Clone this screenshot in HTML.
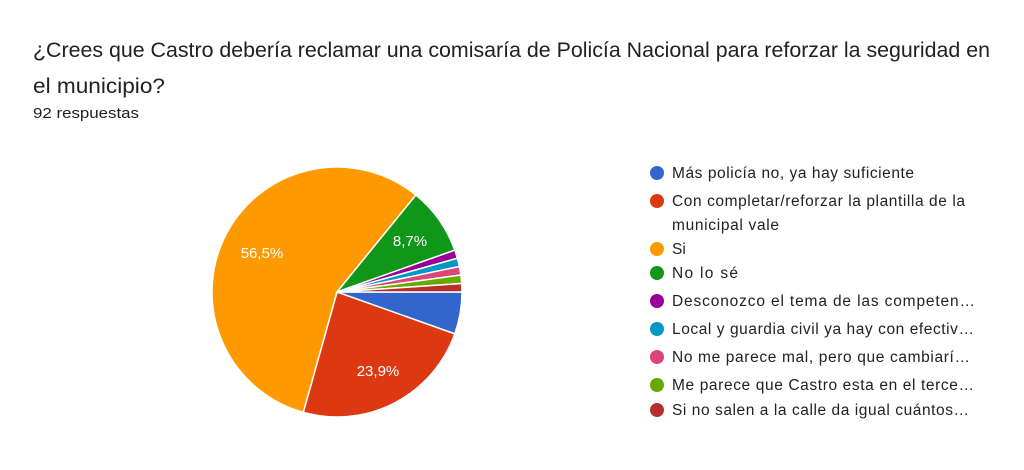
<!DOCTYPE html><html><head><meta charset="utf-8"><style>
body{margin:0;background:#fff;width:1024px;height:465px;overflow:hidden;font-family:"Liberation Sans",Arial,sans-serif}
</style></head><body>
<svg id="s" width="1024" height="465" xmlns="http://www.w3.org/2000/svg" font-family="Liberation Sans, Arial, sans-serif">
<text x="33" y="57" font-size="21" fill="#202124" textLength="957" lengthAdjust="spacingAndGlyphs">¿Crees que Castro debería reclamar una comisaría de Policía Nacional para reforzar la seguridad en</text>
<text x="33" y="93" font-size="21" fill="#202124" textLength="132" lengthAdjust="spacingAndGlyphs">el municipio?</text>
<text x="33" y="118" font-size="15" fill="#202124" textLength="106" lengthAdjust="spacingAndGlyphs">92 respuestas</text>
<g id="pie"></g>
<text x="262" y="258" font-size="15" fill="#fff" text-anchor="middle">56,5%</text>
<text x="378" y="376" font-size="15" fill="#fff" text-anchor="middle">23,9%</text>
<text x="410" y="246" font-size="15" fill="#fff" text-anchor="middle">8,7%</text>
<g font-size="15.5" fill="#222" lengthAdjust="spacingAndGlyphs">
<circle cx="657" cy="173" r="7" fill="#3366cc"/><text x="672" y="178" textLength="242">Más policía no, ya hay suficiente</text>
<circle cx="657" cy="201" r="7" fill="#dc3912"/><text x="672" y="206" textLength="293">Con completar/reforzar la plantilla de la</text><text x="672" y="230" textLength="107">municipal vale</text>
<circle cx="657" cy="249" r="7" fill="#ff9900"/><text x="672" y="254">Si</text>
<circle cx="657" cy="273" r="7" fill="#109618"/><text x="672" y="278" textLength="66">No lo sé</text>
<circle cx="657" cy="301" r="7" fill="#990099"/><text x="672" y="306" textLength="303">Desconozco el tema de las competen…</text>
<circle cx="657" cy="329" r="7" fill="#0099c6"/><text x="672" y="334" textLength="302">Local y guardia civil ya hay con efectiv…</text>
<circle cx="657" cy="357" r="7" fill="#dd4477"/><text x="672" y="362" textLength="298">No me parece mal, pero que cambiarí…</text>
<circle cx="657" cy="385" r="7" fill="#66aa00"/><text x="672" y="390" textLength="302">Me parece que Castro esta en el terce…</text>
<circle cx="657" cy="410" r="7" fill="#b82e2e"/><text x="672" y="415" textLength="297">Si no salen a la calle da igual cuántos…</text>
</g>
</svg>
<script>
var d=[5,22,52,8,1,1,1,1,1],c=["#3366cc","#dc3912","#ff9900","#109618","#990099","#0099c6","#dd4477","#66aa00","#b82e2e"];
var cx=337,cy=292,r=125,a=0,h="";
for(var i=0;i<d.length;i++){var b=a+d[i]/92*2*Math.PI;
var x1=cx+r*Math.cos(a),y1=cy+r*Math.sin(a),x2=cx+r*Math.cos(b),y2=cy+r*Math.sin(b);
h+='<path d="M'+cx+' '+cy+'L'+x1+' '+y1+'A'+r+' '+r+' 0 '+((b-a)>Math.PI?1:0)+' 1 '+x2+' '+y2+'Z" fill="'+c[i]+'" stroke="#fff" stroke-width="1.5"/>';a=b;}
document.getElementById("pie").innerHTML=h;
</script>
</body></html>
